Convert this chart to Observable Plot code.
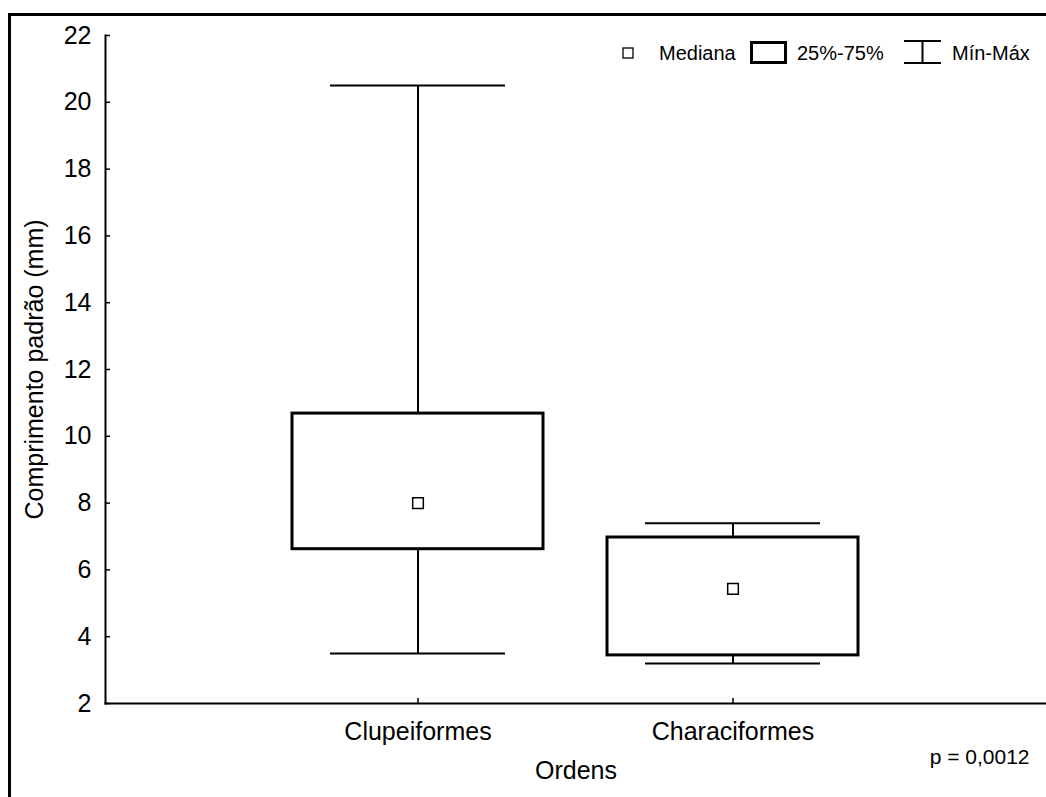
<!DOCTYPE html>
<html><head><meta charset="utf-8">
<script src="https://cdn.jsdelivr.net/npm/d3@7"></script>
<script src="https://cdn.jsdelivr.net/npm/@observablehq/plot@0.6"></script>
<style>
body{margin:0;background:#fff;}
#wrap{position:relative;width:1046px;height:797px;overflow:hidden;background:#fff;}
#chart{position:absolute;left:0;top:0;}
#frame{position:absolute;left:8px;top:13px;right:-10px;bottom:-10px;border-top:3px solid #000;border-left:3px solid #000;pointer-events:none;}
#legend{position:absolute;left:0;top:0;}
</style></head><body>
<div id="wrap"><div id="chart"></div><div id="frame"></div><svg id="legend" width="1046" height="80"></svg></div>
<script>
// Data
const orders = ["Clupeiformes", "Characiformes"];
const mins = [3.5, 3.2];
const q1s = [6.62, 3.44];
const medians = [8.0, 5.43];
const q3s = [10.68, 6.97];
const maxs = [20.5, 7.4];
const yTicks = [2, 4, 6, 8, 10, 12, 14, 16, 18, 20, 22];
const yTitle = "Comprimento padrão (mm)";
const xTitle = "Ordens";
const pText = "p = 0,0012";
const legendLabels = ["Mediana", "25%-75%", "Mín-Máx"];

const data = orders.map((o, i) => ({order: o, min: mins[i], q1: q1s[i], median: medians[i], q3: q3s[i], max: maxs[i]}));

const chart = Plot.plot({
  width: 1046, height: 797,
  marginLeft: 105, marginRight: 0, marginTop: 35, marginBottom: 94,
  style: {fontFamily: "'Liberation Sans', Arial, sans-serif", fontSize: "25px", color: "#000", background: "transparent"},
  x: {type: "band", domain: orders, paddingInner: 0.203, paddingOuter: 0.595},
  y: {domain: [2, 22]},
  marks: [
    Plot.axisY(yTicks, {tickSize: -5, tickPadding: 19, strokeWidth: 1.5, fontSize: 25, label: null}),
    Plot.axisY({ticks: [], label: yTitle, labelAnchor: "center", labelOffset: 80, labelArrow: "none", fontSize: 25}),
    Plot.axisX({tickSize: -5, tickPadding: 24, strokeWidth: 1.5, fontSize: 25, label: null}),
    Plot.frame({anchor: "left", strokeWidth: 2}),
    Plot.frame({anchor: "bottom", strokeWidth: 2}),
    Plot.ruleX(data, {x: "order", y1: "min", y2: "q1", strokeWidth: 2}),
    Plot.ruleX(data, {x: "order", y1: "q3", y2: "max", strokeWidth: 2}),
    Plot.tickY(data, {x: "order", y: "min", insetLeft: 38, insetRight: 38, strokeWidth: 2}),
    Plot.tickY(data, {x: "order", y: "max", insetLeft: 38, insetRight: 38, strokeWidth: 2}),
    Plot.barY(data, {x: "order", y1: "q1", y2: "q3", fill: "white", stroke: "black", strokeWidth: 3}),
    Plot.dot(data, {x: "order", y: "median", symbol: "square", r: 6, stroke: "black", strokeWidth: 1.5, fill: "white"}),
    Plot.text([xTitle], {frameAnchor: "bottom", dy: 75, fontSize: 25}),
    Plot.text([pText], {frameAnchor: "bottom-right", dx: -17, dy: 60, textAnchor: "end", fontSize: 21})
  ]
});
document.getElementById("chart").appendChild(chart);

// Legend overlay
const lg = d3.select("#legend");
const font = "'Liberation Sans', Arial, sans-serif";
lg.append("rect").attr("x", 623).attr("y", 48).attr("width", 10).attr("height", 10)
  .attr("fill", "white").attr("stroke", "black").attr("stroke-width", 1.3);
lg.append("text").attr("x", 659).attr("y", 60).attr("font-family", font).attr("font-size", 20).text(legendLabels[0]);
lg.append("rect").attr("x", 751.5).attr("y", 42.5).attr("width", 34).attr("height", 20)
  .attr("fill", "white").attr("stroke", "black").attr("stroke-width", 3);
lg.append("text").attr("x", 797).attr("y", 60).attr("font-family", font).attr("font-size", 20).text(legendLabels[1]);
const ib = lg.append("g").attr("stroke", "black").attr("stroke-width", 2);
ib.append("line").attr("x1", 904).attr("x2", 941).attr("y1", 41).attr("y2", 41);
ib.append("line").attr("x1", 904).attr("x2", 941).attr("y1", 63).attr("y2", 63);
ib.append("line").attr("x1", 922.5).attr("x2", 922.5).attr("y1", 41).attr("y2", 63);
lg.append("text").attr("x", 952).attr("y", 60).attr("font-family", font).attr("font-size", 20).text(legendLabels[2]);
</script>
</body></html>
